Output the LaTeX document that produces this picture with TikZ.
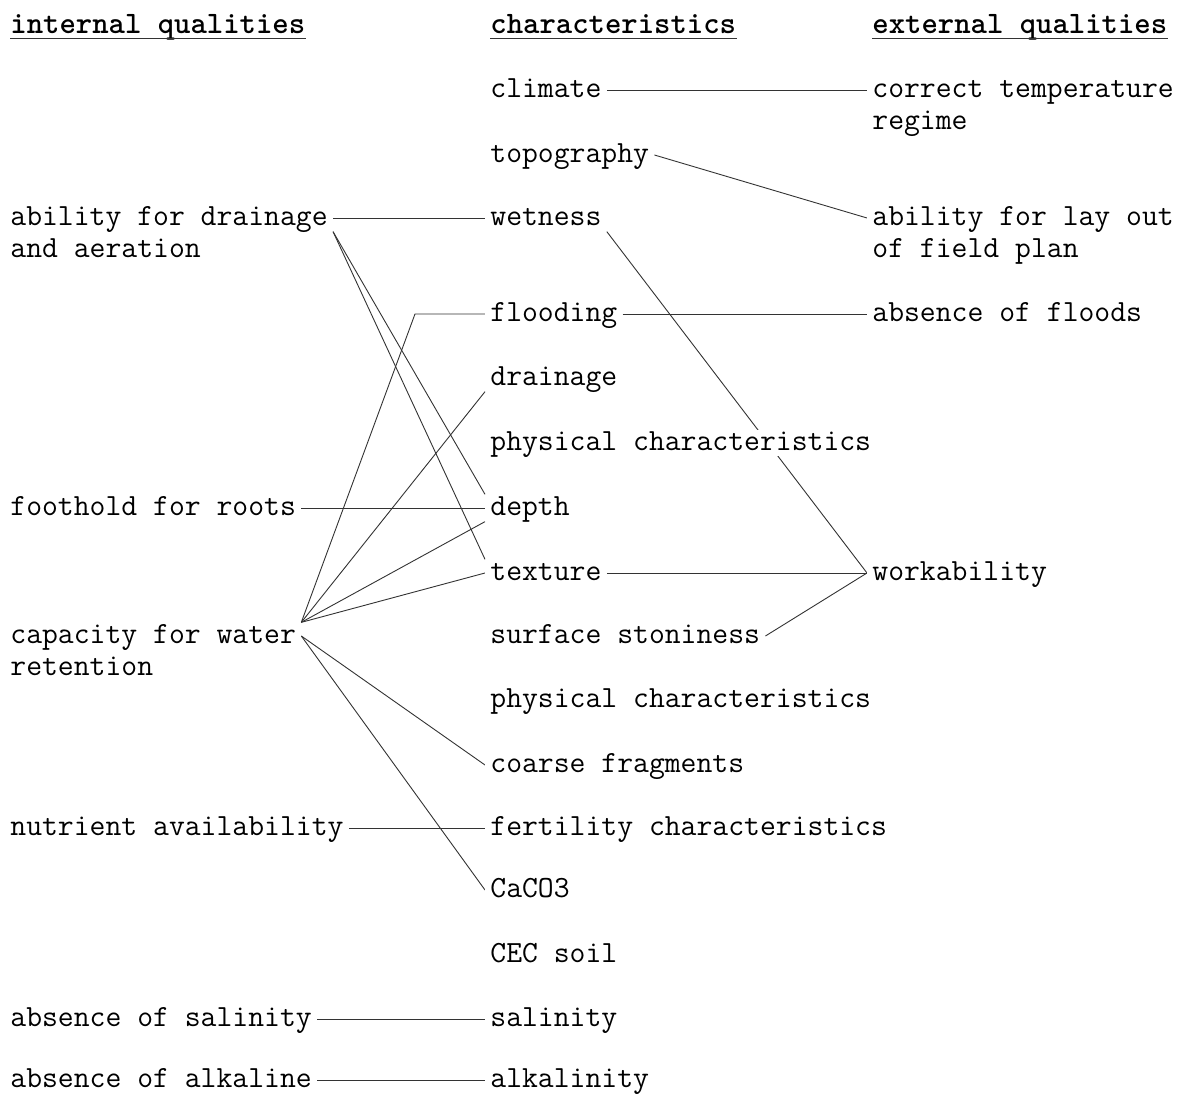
\documentclass[tikz,border=0pt]{standalone}
\usetikzlibrary{backgrounds}

\begin{document}
\begin{tikzpicture}[x=0.5pt,y=-0.5pt,
    lbl/.style={anchor=west,fill=white,inner xsep=2.5pt,inner ysep=0.5pt,
                text height=10pt,text depth=2.25pt,font=\ttfamily\fontsize{15.4}{18}\selectfont},
    head/.style={lbl,inner xsep=0pt,font=\ttfamily\bfseries\fontsize{15.6}{18}\selectfont},
    link/.style={draw=black!80,line width=0.45pt}]

  \useasboundingbox (0,0) rectangle (1179,1096);

  % headings
  \node[head] (hin) at (10,26)  {internal qualities};
  \node[head] (hch) at (490,26) {characteristics};
  \node[head] (hex) at (872,26) {external qualities};
  \foreach \h in {hin,hch,hex}
    \draw[link] ([yshift=-2.5pt]\h.base west) -- ([yshift=-2.5pt]\h.base east);

  % internal qualities
  \node[lbl] (drain)  at (5,218)  {ability for drainage};
  \node[lbl] (drainb) at (5,250)  {and aeration};
  \node[lbl] (foot)   at (5,508)  {foothold for roots};
  \node[lbl] (cap)    at (5,636)  {capacity for water};
  \node[lbl] (capb)   at (5,668)  {retention};
  \node[lbl] (nutr)   at (5,828)  {nutrient availability};
  \node[lbl] (nosal)  at (5,1019) {absence of salinity};
  \node[lbl] (noalk)  at (5,1080) {absence of alkaline};

  % characteristics
  \node[lbl] (clim)   at (485,90)   {climate};
  \node[lbl] (topo)   at (485,155)  {topography};
  \node[lbl] (wet)    at (485,218)  {wetness};
  \node[lbl] (flood)  at (485,314)  {flooding};
  \node[lbl] (drng)   at (485,378)  {drainage};
  \node[lbl] (physa)  at (485,443)  {physical characteristics};
  \node[lbl] (depth)  at (485,508)  {depth};
  \node[lbl] (tex)    at (485,573)  {texture};
  \node[lbl] (stone)  at (485,636)  {surface stoniness};
  \node[lbl] (physb)  at (485,700)  {physical characteristics};
  \node[lbl] (coarse) at (485,765)  {coarse fragments};
  \node[lbl] (fert)   at (485,828)  {fertility characteristics};
  \node[lbl] (caco)   at (485,890)  {CaCO3};
  \node[lbl] (cec)    at (485,955)  {CEC soil};
  \node[lbl] (sal)    at (485,1019) {salinity};
  \node[lbl] (alk)    at (485,1080) {alkalinity};

  % external qualities
  \node[lbl] (temp)   at (867,90)  {correct temperature};
  \node[lbl] (tempb)  at (867,122) {regime};
  \node[lbl] (lay)    at (867,218) {ability for lay out};
  \node[lbl] (layb)   at (867,250) {of field plan};
  \node[lbl] (nofl)   at (867,314) {absence of floods};
  \node[lbl] (work)   at (867,573) {workability};

  \begin{scope}[on background layer]
    \path[link]
      (clim.east)        edge (temp.west)
      (topo.east)        edge (lay.west)
      (drain.east)       edge (wet.west)
      (drain.south east) edge (depth.north west)
      (drain.south east) edge (tex.north west)
      (wet.south east)   edge (work.west)
      (flood.east)       edge (nofl.west)
      (drng.south west)  edge (cap.north east)
      (foot.east)        edge (depth.west)
      (cap.north east)   edge (depth.south west)
      (cap.north east)   edge (tex.west)
      (tex.east)         edge (work.west)
      (stone.east)       edge (work.west)
      (cap.east)         edge (coarse.west)
      (cap.east)         edge (caco.west)
      (nutr.east)        edge (fert.west)
      (nosal.east)       edge (sal.west)
      (noalk.east)       edge (alk.west);
    \draw[link] (flood.west) -- ++(-70,0) -- (cap.north east);
  \end{scope}
\end{tikzpicture}
\end{document}
